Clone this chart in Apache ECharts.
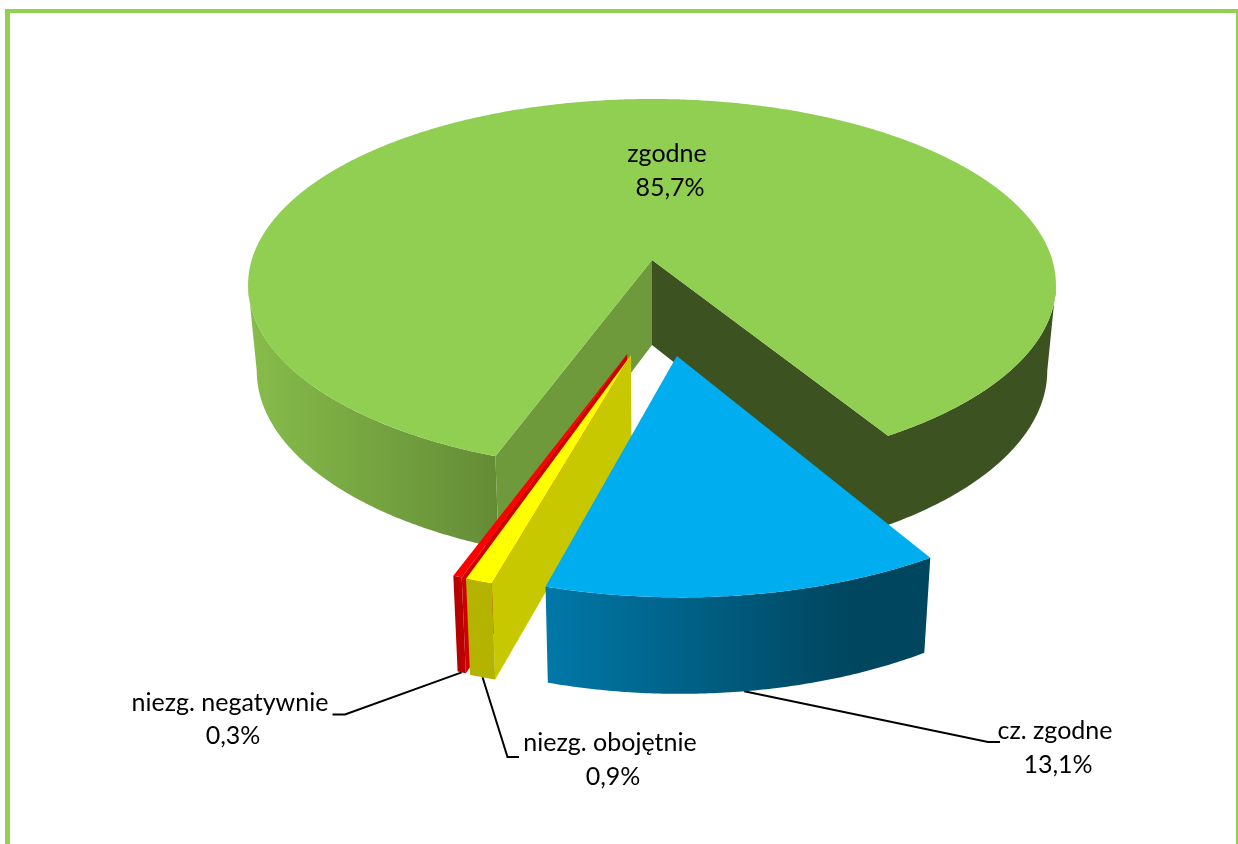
<!DOCTYPE html>
<html>
<head>
<meta charset="utf-8">
<title>zgodne</title>
<script src="https://cdn.jsdelivr.net/npm/echarts@6/dist/echarts.min.js"></script>
<style>
  html,body{margin:0;padding:0;background:#fff;overflow:hidden;}
  #chart{width:1238px;height:844px;}
</style>
</head>
<body>
<div id="chart"></div>
<script>
// dane
var names = ['zgodne', 'cz. zgodne', 'niezg. obojętnie', 'niezg. negatywnie'];
var values = [85.7, 13.1, 0.9, 0.3];

// wyglad kolejnych wycinkow (w tej samej kolejnosci co names)
var topColors = ['#90CF52', '#00AEEF', '#FFFF00', '#FF0000'];
var explodeU = [0, 0.058, -0.049, -0.058];
var explodeV = [0, 0.491, 0.486, 0.481];
var sliceR = [1, 0.99, 0.985, 0.985];
var angleShift = [0, 0.3, 0.5, 0.5];
var drawOrder = [0, 3, 2, 1];
var nameX = [667, 1055, 610, 230];
var nameY = [154, 731, 743, 703];
var pctX = [670, 1058, 613, 233];
var pctY = [188, 765, 777, 736];
// zalamanie linii odniesienia: [x kolanka, y, x konca]
var leaders = [null, [988, 742, 1000], [507.5, 757, 519], [345, 714.5, 332.5]];

var START_ANGLE = 200;
// katy, przy ktorych sciana boczna styka sie z konturem dysku
var WALL_RIGHT = 97.7, WALL_LEFT = 262.3;
// rzut perspektywiczny dysku
var CX = 652, CY = 260, A = 400.3, B = 182.6, K = 0.134;

function project(u, v){
  var w = 1 - K * v;
  return [CX + A * u / w, CY + B * v / w];
}
// ten sam punkt na dolnej podstawie
function lower(p){
  return [CX + (p[0] - CX) * (1 - 0.0215), p[1] + 85 + 0.034 * (p[1] - CY)];
}
function rimPoint(i, deg){
  var rad = (deg + angleShift[i]) * Math.PI / 180;
  return project(explodeU[i] + sliceR[i] * Math.sin(rad), explodeV[i] - sliceR[i] * Math.cos(rad));
}
function rim(i, from, to){
  var pts = [];
  var n = Math.max(2, Math.ceil((to - from) / 0.5));
  for(var j = 0; j <= n; j++){
    pts.push(rimPoint(i, from + (to - from) * j / n));
  }
  return pts;
}
function wall(pts, fill, z){
  var bottom = pts.map(lower).reverse();
  return {type: 'polygon', shape: {points: pts.concat(bottom)}, style: {fill: fill}, z2: z};
}
function hGradient(x1, x2, stops){
  return new echarts.graphic.LinearGradient(x1, 0, x2, 0, stops, true);
}
function textEl(str, x, y){
  return {
    type: 'text',
    style: {
      text: str,
      x: x,
      y: y,
      align: 'center',
      verticalAlign: 'middle',
      font: '25px Lato, sans-serif',
      fill: '#000'
    },
    z2: 100
  };
}

// katy poczatku i konca wycinkow
var total = values.reduce(function(a, b){return a + b;}, 0);
var starts = [], ends = [], acc = START_ANGLE;
values.forEach(function(v){
  starts.push(acc);
  acc += v / total * 360;
  ends.push(acc);
});

function renderSlice(params, api){
  var i = params.dataIndex;
  var s = starts[i], e = ends[i];
  var z = drawOrder[i] * 10;
  var apex = project(explodeU[i], explodeV[i]);
  var kids = [];

  if(i === 0){
    // prawa sciana ciemna razem z przecieciem, lewa z gradientem
    kids.push(wall(rim(0, 360 + WALL_RIGHT, e).concat([apex]), '#3C5221', z));
    kids.push(wall(rim(0, s, WALL_LEFT), hGradient(255, 497, [
      {offset: 0, color: '#86BB4A'}, {offset: 1, color: '#648C36'}
    ]), z));
    kids.push(wall([apex, rimPoint(0, s)], '#6F9A3C', z + 2));
  } else if(i === 1){
    kids.push(wall(rim(1, s, e), hGradient(547, 926, [
      {offset: 0, color: '#0078A8'}, {offset: 0.8, color: '#00465F'}, {offset: 1, color: '#00465F'}
    ]), z));
  } else {
    var cutColor = i === 2 ? '#C8C800' : '#D00000';
    var sideColor = i === 2 ? '#B3B300' : '#B80000';
    kids.push(wall([apex, rimPoint(i, s)], cutColor, z));
    kids.push(wall(rim(i, s, e), sideColor, z + 1));
  }

  kids.push({
    type: 'polygon',
    shape: {points: [apex].concat(rim(i, s, e))},
    style: {fill: topColors[i]},
    z2: z + 3
  });

  if(leaders[i]){
    var a = lower(rimPoint(i, (s + e) / 2));
    kids.push({
      type: 'polyline',
      shape: {points: [a, [leaders[i][0], leaders[i][1]], [leaders[i][2], leaders[i][1]]]},
      style: {stroke: '#000', lineWidth: 2, fill: null},
      z2: 5
    });
  }

  kids.push(textEl(names[i], nameX[i], nameY[i]));
  kids.push(textEl(api.value(0).toFixed(1).replace('.', ',') + '%', pctX[i], pctY[i]));

  return {type: 'group', children: kids};
}

var chart = echarts.init(document.getElementById('chart'), null, {renderer: 'canvas'});
chart.setOption({
  animation: false,
  backgroundColor: '#fff',
  // ramka wykresu
  graphic: {
    elements: [
      {type: 'rect', shape: {x: 5, y: 9, width: 5, height: 835}, style: {fill: '#92D050'}},
      {type: 'rect', shape: {x: 5, y: 9, width: 1233, height: 4}, style: {fill: '#92D050'}},
      {type: 'rect', shape: {x: 1236, y: 9, width: 2, height: 835}, style: {fill: '#92D050'}}
    ]
  },
  series: [{
    type: 'custom',
    coordinateSystem: 'none',
    silent: true,
    renderItem: renderSlice,
    data: values.map(function(v){return [v];})
  }]
});
</script>
</body>
</html>
